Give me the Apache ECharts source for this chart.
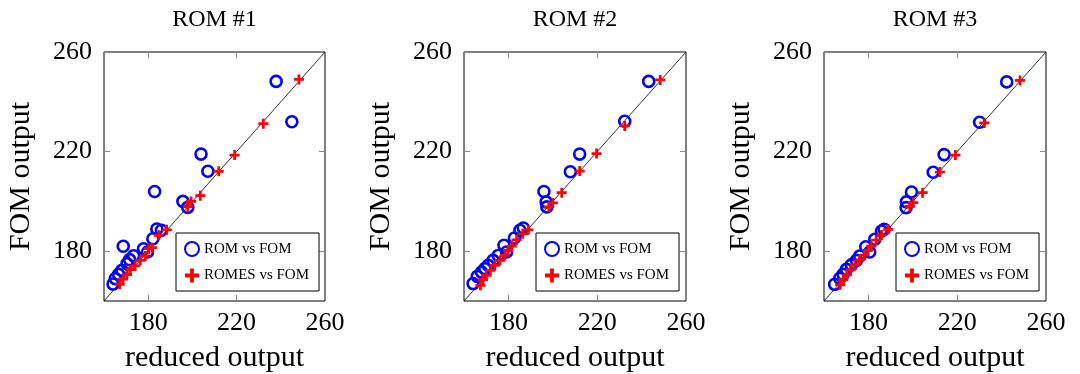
<!DOCTYPE html>
<html><head><meta charset="utf-8">
<script src="https://cdn.jsdelivr.net/npm/echarts@6/dist/echarts.min.js"></script>
<style>html,body{margin:0;padding:0;background:#fff}#c{width:1080px;height:374px}</style>
</head><body><div id="c"></div>
<script>
const titles = ['ROM #1', 'ROM #2', 'ROM #3'];
const seriesNames = ['ROM vs FOM', 'ROMES vs FOM'];
const tickValues = [180, 220, 260];
const axisRange = [160, 260];
const diagonal = [[160, 160], [260, 260]];
const xName = 'reduced output';
const yName = 'FOM output';

const rom1 = [[237.9,248.2],[245.0,232.0],[203.9,219.0],[207.0,212.1],[182.9,204.0],[195.7,200.0],[197.9,197.6],[183.9,188.9],[186.0,188.4],[182.1,185.0],[168.7,182.0],[177.9,181.0],[179.7,179.7],[173.4,178.2],[171.6,176.6],[170.4,175.0],[168.1,172.3],[166.6,170.7],[165.1,169.0],[164.1,166.8]];
const romes1 = [[248.2,249.0],[232.1,231.2],[219.1,218.6],[211.9,212.1],[203.6,202.3],[199.4,200.0],[197.9,197.9],[188.4,188.6],[184.8,186.4],[181.7,181.4],[180.3,181.0],[178.7,178.1],[176.4,176.3],[174.1,174.1],[171.9,172.6],[170.4,170.6],[168.6,168.8],[167.1,166.7]];

const rom2 = [[243.2,248.2],[232.4,232.2],[212.1,219.0],[207.9,211.9],[196.0,204.0],[197.0,199.8],[197.3,197.8],[186.7,189.3],[185.2,188.4],[182.7,185.3],[178.0,182.4],[179.2,179.7],[175.4,178.3],[173.1,176.3],[170.9,174.3],[169.4,173.0],[167.9,171.6],[166.0,169.9],[164.1,167.0]];
const romes2 = [[248.4,248.8],[232.4,230.3],[219.7,219.2],[212.1,212.2],[204.0,203.5],[200.0,199.4],[198.2,197.8],[189.0,188.6],[186.4,187.0],[183.7,184.6],[181.5,182.0],[179.9,180.3],[178.4,178.3],[176.2,176.3],[173.9,174.3],[171.9,172.3],[170.1,170.3],[168.6,168.6],[167.4,166.3]];

const rom3 = [[242.3,248.0],[230.1,231.8],[214.1,218.8],[209.2,211.7],[199.4,203.8],[197.1,199.8],[197.0,197.5],[187.1,188.8],[185.9,188.1],[182.9,184.8],[178.8,181.8],[180.6,179.7],[176.1,178.1],[174.6,176.3],[172.3,174.5],[170.1,172.7],[168.6,170.7],[167.1,169.1],[164.8,166.7]];
const romes3 = [[248.3,248.6],[232.2,231.5],[219.2,218.6],[212.2,211.8],[204.4,203.5],[200.2,199.5],[198.6,198.0],[188.9,188.8],[185.9,186.5],[183.5,184.5],[181.3,182.0],[179.8,180.3],[178.2,178.4],[176.0,176.5],[174.0,174.5],[172.0,172.5],[170.3,170.5],[168.7,168.6],[167.3,166.5]];

const romData = [rom1, rom2, rom3];
const romesData = [romes1, romes2, romes3];

const FONT = 'Liberation Serif';
const plus = 'path://M4,0H7V4H11V7H7V11H4V7H0V4H4Z';
const grids = [
  {left: 104, top: 52, width: 221, height: 249},
  {left: 464, top: 52, width: 222, height: 249},
  {left: 824, top: 52, width: 222, height: 249}
];

const option = {
  animation: false,
  backgroundColor: '#fff',
  title: [], grid: [], xAxis: [], yAxis: [], legend: [], series: []
};

grids.forEach((g, i) => {
  const cx = g.left + g.width / 2;
  option.title.push({text: titles[i], left: cx - 5, top: 3, textAlign: 'center',
    textStyle: {fontFamily: FONT, fontSize: 24, fontWeight: 'normal', color: '#000'}});
  option.grid.push({left: g.left, top: g.top, width: g.width, height: g.height,
    containLabel: false, outerBoundsMode: 'none',
    show: true, borderColor: '#000', borderWidth: 1, backgroundColor: 'transparent'});
  const tickStyle = {show: true, inside: true, length: 6, customValues: tickValues,
    lineStyle: {color: '#888', width: 1}};
  const common = {type: 'value', min: axisRange[0], max: axisRange[1], gridIndex: i,
    splitLine: {show: false}, axisLine: {show: false}};
  option.xAxis.push(Object.assign({}, common, {
    position: 'bottom', name: xName, nameLocation: 'middle', nameGap: 42,
    nameTextStyle: {fontFamily: FONT, fontSize: 30, color: '#000'},
    axisTick: tickStyle,
    axisLabel: {customValues: tickValues, showMinLabel: true, showMaxLabel: true,
      margin: 9, fontFamily: FONT, fontSize: 26, color: '#000'}
  }));
  option.xAxis.push(Object.assign({}, common, {
    position: 'top', axisTick: tickStyle, axisLabel: {show: false}
  }));
  option.yAxis.push(Object.assign({}, common, {
    position: 'left', name: yName, nameLocation: 'middle', nameGap: 68,
    nameTextStyle: {fontFamily: FONT, fontSize: 30, color: '#000'},
    axisTick: tickStyle,
    axisLabel: {customValues: tickValues, showMinLabel: true, showMaxLabel: true,
      margin: 12, fontFamily: FONT, fontSize: 26, color: '#000'}
  }));
  option.yAxis.push(Object.assign({}, common, {
    position: 'right', axisTick: tickStyle, axisLabel: {show: false}
  }));
  option.legend.push({
    data: seriesNames, orient: 'vertical', left: g.left + 72, top: 233,
    padding: [8, 10, 8, 8], itemGap: 11, itemWidth: 14, itemHeight: 14,
    borderColor: '#000', borderWidth: 1, backgroundColor: '#fff',
    selectedMode: false,
    textStyle: {fontFamily: FONT, fontSize: 15, color: '#000'}
  });
  const xi = i * 2, yi = i * 2;
  option.series.push({type: 'line', xAxisIndex: xi, yAxisIndex: yi, data: diagonal,
    showSymbol: false, symbol: 'none', silent: true, z: 1,
    lineStyle: {color: '#000', width: 0.8}});
  option.series.push({type: 'scatter', name: seriesNames[0], xAxisIndex: xi, yAxisIndex: yi,
    data: romData[i], symbol: 'circle', symbolSize: 11, z: 3,
    itemStyle: {color: 'rgba(0,0,0,0)', borderColor: '#0000ff', borderWidth: 2.6, opacity: 1}});
  option.series.push({type: 'scatter', name: seriesNames[1], xAxisIndex: xi, yAxisIndex: yi,
    data: romesData[i], symbol: plus, symbolSize: 10, z: 4,
    itemStyle: {color: '#ff0000', opacity: 1}});
});

const chart = echarts.init(document.getElementById('c'), null, {renderer: 'canvas'});
chart.setOption(option);
</script></body></html>
